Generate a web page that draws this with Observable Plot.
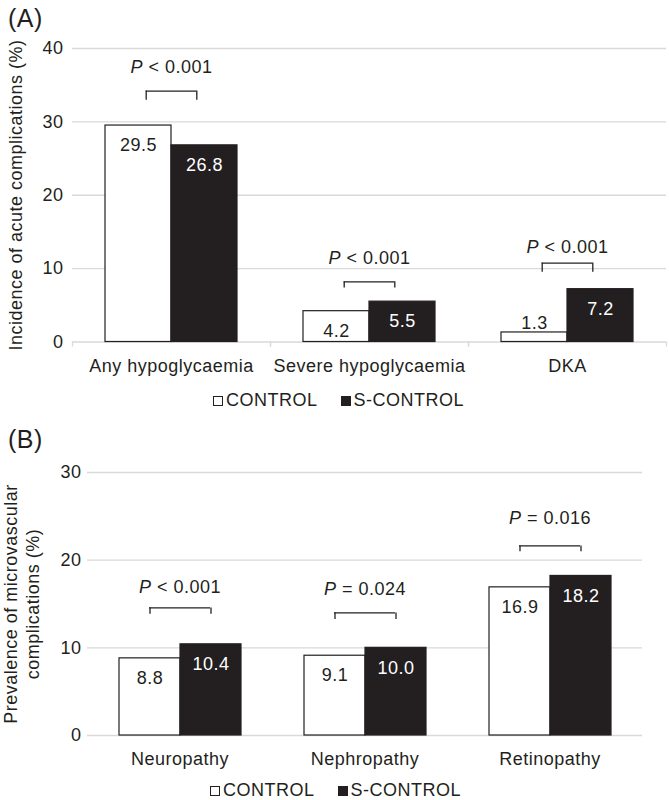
<!DOCTYPE html>
<html><head><meta charset="utf-8">
<script src="https://cdn.jsdelivr.net/npm/d3@7"></script>
<script src="https://cdn.jsdelivr.net/npm/@observablehq/plot@0.6"></script>
<style>
body{margin:0;background:#fff;}
#wrap{position:relative;width:669px;height:800px;font-family:"Liberation Sans",Arial,sans-serif;color:#231f20;letter-spacing:0.5px;overflow:hidden;}
.abs{position:absolute;}
.tag{font-size:25px;line-height:25px;left:8px;}
.ytitle{font-size:18px;white-space:nowrap;transform:translate(-50%,-50%) rotate(-90deg);text-align:center;}
.legend{font-size:18px;line-height:18px;left:0;width:669px;text-align:center;white-space:nowrap;box-sizing:border-box;}
.sw{display:inline-block;width:8px;height:8px;border:1px solid #231f20;margin-right:3px;}
.gap{display:inline-block;width:23px;}
.panel svg{overflow:visible;}
</style>
</head><body>
<div id="wrap"></div>
<script>
// ---------- data ----------
const groups = ["CONTROL", "S-CONTROL"];
const groupFills = ["#ffffff", "#231f20"];

const categoriesA = ["Any hypoglycaemia", "Severe hypoglycaemia", "DKA"];
const controlA = [29.5, 4.2, 1.3];
const sControlA = [26.8, 5.5, 7.2];
const pLabelsA = ["P < 0.001", "P < 0.001", "P < 0.001"];
const pTextYA = [37.5, 11.35, 12.93];
const bracketTopA = [34.2, 8.2, 10.75];
const bracketBottomA = [32.95, 7.35, 9.5];
const yTicksA = [0, 10, 20, 30, 40];
const yTitleA = "Incidence of acute complications (%)";

const categoriesB = ["Neuropathy", "Nephropathy", "Retinopathy"];
const controlB = [8.8, 9.1, 16.9];
const sControlB = [10.4, 10.0, 18.2];
const pLabelsB = ["P < 0.001", "P = 0.024", "P = 0.016"];
const pTextYB = [16.95, 16.72, 24.77];
const bracketTopB = [14.55, 13.98, 21.63];
const bracketBottomB = [13.83, 13.22, 20.95];
const yTicksB = [0, 10, 20, 30];
const yTitleB = ["Prevalence of microvascular", "complications (%)"];

// ---------- drawing ----------
const ink = "#231f20";
const gridColor = "#d9d9d9";
const W = 669;

function panel(o) {
  const bars = o.categories.flatMap((c, i) => [
    {category: c, group: groups[0], value: o.control[i]},
    {category: c, group: groups[1], value: o.sControl[i]}
  ]);
  const brackets = o.categories.map((c, i) => ({
    category: c, label: o.pLabels[i], textY: o.pTextY[i], top: o.bracketTop[i], bottom: o.bracketBottom[i]
  }));
  const facetW = (W - o.marginLeft - o.marginRight) / o.categories.length;
  const step = facetW / 3;
  const lab = d => d.value.toFixed(1);
  const marks = [
    Plot.gridY(o.yTicks, {stroke: gridColor, strokeOpacity: 1, strokeWidth: 1.3}),
    Plot.axisY(o.yTicks, {tickSize: 0, tickPadding: o.tickPadding, label: null, tickFormat: d => String(d)}),
    Plot.axisFx({anchor: "bottom", tickSize: 0, tickPadding: 17, label: null}),
    Plot.barY(bars, {fx: "category", x: "group", y: "value", fill: "group", stroke: ink, strokeWidth: 1.2, inset: 0}),
    Plot.text(bars.filter(d => d.group === groups[0] && d.value >= 3), {fx: "category", x: "group", y: "value", text: lab, dy: 20, fill: ink}),
    Plot.text(bars.filter(d => d.group === groups[0] && d.value < 3), {fx: "category", x: "group", y: "value", text: lab, dy: -9, fill: ink}),
    Plot.text(bars.filter(d => d.group === groups[1]), {fx: "category", x: "group", y: "value", text: lab, dy: 20, fill: "white"}),
    Plot.ruleY(brackets, {fx: "category", y: "top", insetLeft: o.bracketInset, insetRight: o.bracketInset, stroke: ink, strokeWidth: 1.3}),
    Plot.ruleX(brackets, {fx: "category", x: () => groups[0], y1: "bottom", y2: "top", dx: o.legDx, stroke: ink, strokeWidth: 1.3}),
    Plot.ruleX(brackets, {fx: "category", x: () => groups[1], y1: "bottom", y2: "top", dx: -o.legDx, stroke: ink, strokeWidth: 1.3}),
    Plot.text(brackets, {fx: "category", y: "textY", text: "label", fill: ink})
  ];
  if (o.boundaryTicks) {
    marks.push(
      Plot.ruleX(o.categories, {fx: d => d, x: () => groups[0], y1: () => 0, y2: () => 0, dx: -step, insetTop: 0, insetBottom: -5, stroke: gridColor, strokeWidth: 1.3}),
      Plot.ruleX(o.categories, {fx: d => d, x: () => groups[1], y1: () => 0, y2: () => 0, dx: step, insetTop: 0, insetBottom: -5, stroke: gridColor, strokeWidth: 1.3})
    );
  }
  const chart = Plot.plot({
    width: W,
    height: o.height,
    marginTop: o.marginTop,
    marginBottom: o.marginBottom,
    marginLeft: o.marginLeft,
    marginRight: o.marginRight,
    style: {fontSize: "18px", fontFamily: '"Liberation Sans", Arial, sans-serif', letterSpacing: "0.5px", color: ink, background: "transparent", overflow: "visible"},
    fx: {domain: o.categories, padding: 0, label: null},
    x: {domain: groups, paddingInner: 0, paddingOuter: 0.5, axis: null},
    y: {domain: [0, o.yTicks[o.yTicks.length - 1]], label: null},
    color: {domain: groups, range: groupFills},
    marks
  });
  // italic P in the significance labels
  chart.querySelectorAll("text").forEach(t => {
    const s = t.textContent;
    if (/^P [<=]/.test(s) && t.children.length === 0) {
      t.textContent = "";
      const ns = "http://www.w3.org/2000/svg";
      const it = document.createElementNS(ns, "tspan");
      it.setAttribute("font-style", "italic");
      it.textContent = "P";
      t.appendChild(it);
      t.appendChild(document.createTextNode(s.slice(1)));
    }
  });
  return chart;
}

function legend(top, padLeft) {
  const div = document.createElement("div");
  div.className = "abs legend";
  div.style.top = top + "px";
  div.style.paddingLeft = padLeft + "px";
  groups.forEach((g, i) => {
    if (i > 0) { const gp = document.createElement("span"); gp.className = "gap"; div.appendChild(gp); }
    const sw = document.createElement("span");
    sw.className = "sw";
    sw.style.background = groupFills[i];
    div.appendChild(sw);
    div.appendChild(document.createTextNode(g));
  });
  return div;
}

function addAbs(html, cls, styles) {
  const d = document.createElement("div");
  d.className = "abs " + cls;
  d.innerHTML = html;
  Object.assign(d.style, styles);
  wrap.appendChild(d);
  return d;
}

const wrap = document.getElementById("wrap");

// Panel A
const pa = document.createElement("div");
pa.className = "abs panel"; pa.style.left = "0px"; pa.style.top = "0px";
pa.appendChild(panel({
  categories: categoriesA, control: controlA, sControl: sControlA, pLabels: pLabelsA,
  pTextY: pTextYA, bracketTop: bracketTopA, bracketBottom: bracketBottomA, yTicks: yTicksA,
  height: 385, marginTop: 48, marginBottom: 43.5, marginLeft: 72, marginRight: 3,
  tickPadding: 9, bracketInset: 73.7, legDx: 7.7, boundaryTicks: true
}));
wrap.appendChild(pa);
addAbs("(A)", "tag", {top: "5.5px"});
addAbs(yTitleA, "ytitle", {left: "15.5px", top: "194.5px", lineHeight: "18px"});
wrap.appendChild(legend(390.8, 8));

// Panel B
const pb = document.createElement("div");
pb.className = "abs panel"; pb.style.left = "0px"; pb.style.top = "420px";
pb.appendChild(panel({
  categories: categoriesB, control: controlB, sControl: sControlB, pLabels: pLabelsB,
  pTextY: pTextYB, bracketTop: bracketTopB, bracketBottom: bracketBottomB, yTicks: yTicksB,
  height: 352, marginTop: 52, marginBottom: 37, marginLeft: 86, marginRight: 27,
  tickPadding: 6, bracketInset: 62, legDx: 0, boundaryTicks: false
}));
wrap.appendChild(pb);
addAbs("(B)", "tag", {top: "426.8px"});
addAbs(yTitleB.join("<br>"), "ytitle", {left: "21.5px", top: "603.5px", lineHeight: "21.5px"});
wrap.appendChild(legend(780.8, 2));
</script>
</body></html>
